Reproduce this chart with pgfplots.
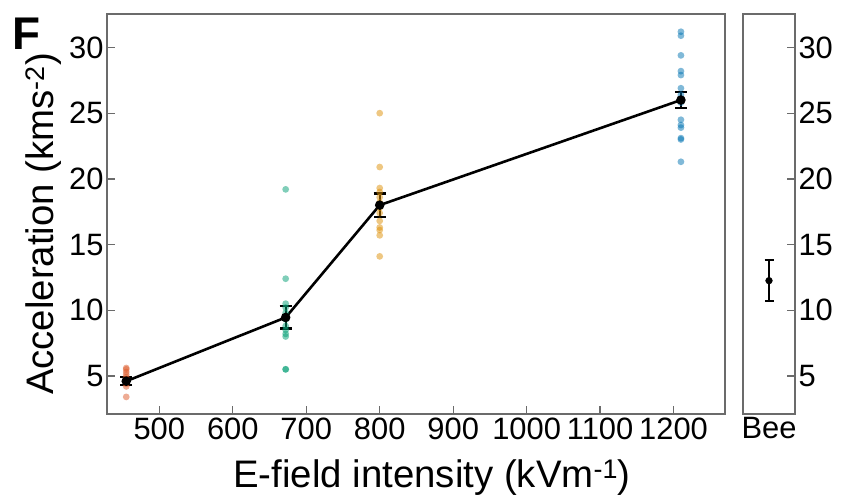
\documentclass[border=0pt]{standalone}
\usepackage{fontspec}
\setmainfont{Liberation Sans}
\usepackage{pgfplots}
\pgfplotsset{compat=1.18}

\definecolor{cred}{HTML}{DD5A2A}
\definecolor{cgreen}{HTML}{029E73}
\definecolor{cgold}{HTML}{DE8F05}
\definecolor{cblue}{HTML}{0173B2}
\definecolor{frame}{gray}{0.42}

\newcommand{\tickfont}{\fontsize{31}{31}\selectfont}
\newcommand{\labfont}{\fontsize{38.5}{38.5}\selectfont}

\pgfplotsset{
  panel/.style={
    scale only axis, height=400bp,
    ymin=2.1, ymax=32.55,
    ytick={5,10,...,30},
    tick align=inside,
    major tick length=8bp,
    axis line style={frame, line width=1.3bp},
    every tick/.style={frame, line width=1.3bp},
    tick label style={font=\tickfont},
    /pgf/number format/assume math mode=true,
    /pgf/number format/1000 sep={},
  },
  dots/.style={only marks, mark=*, mark size=3.4bp,
    mark options={draw opacity=0, fill=#1, fill opacity=0.5}},
}

\begin{document}
\begin{tikzpicture}
\useasboundingbox (-107bp,-88bp) rectangle (738bp,414bp);

\begin{axis}[panel,
  at={(0,0)}, anchor=south west,
  width=618bp,
  xmin=428.8, xmax=1270,
  xtick={500,600,...,1200},
  xtick pos=bottom, ytick pos=left,
  xlabel={E-field intensity (kVm\textsuperscript{-1})},
  ylabel={Acceleration (kms\textsuperscript{-2})},
  xlabel style={font=\labfont, at={(axis description cs:0.526,-0.1825)}, anchor=base},
  ylabel style={font=\labfont, at={(axis description cs:-0.0860,0.475)}, anchor=base, rotate=0},
  clip=false,
]
% individual trials
\addplot[dots=cred] coordinates {
  (455,5.6) (455,5.5) (455,5.3) (455,5.1) (455,4.9) (455,4.7)
  (455,4.5) (455,4.4) (455,4.2) (455,3.4)
};
\addplot[dots=cgreen] coordinates {
  (672,19.2) (672,12.4) (672,10.5) (672,10.2) (672,9.8) (672,9.3)
  (672,8.8) (672,8.5) (672,8.2) (672,8.0) (672,5.5) (672,5.5)
};
\addplot[dots=cgold] coordinates {
  (800,25.0) (800,20.9) (800,19.3) (800,19.0) (800,18.6) (800,18.2)
  (800,17.8) (800,17.4) (800,16.8) (800,16.3) (800,16.1) (800,15.7) (800,14.1)
};
\addplot[dots=cblue] coordinates {
  (1210,31.2) (1210,30.9) (1210,29.4) (1210,28.2) (1210,27.9) (1210,26.9)
  (1210,26.4) (1210,25.8) (1210,24.5) (1210,24.1) (1210,23.9) (1210,23.1)
  (1210,23.0) (1210,21.3)
};
% means +- error
\addplot[black, line width=2.6bp, mark=*, mark size=3.4bp,
  error bars/.cd, y dir=both, y explicit,
  error bar style={line width=2.3bp},
  error mark options={rotate=90, mark size=6bp, line width=2.3bp}]
  coordinates {
  (455,4.6) +- (0,0.3)
  (672,9.45) +- (0,0.85)
  (800,18.0) +- (0,0.88)
  (1210,26.0) +- (0,0.63)
};
\node[font=\fontsize{46}{46}\selectfont\bfseries, anchor=north west, inner sep=0pt]
  at (rel axis cs:-0.154,0.99) {F};
\end{axis}

\begin{axis}[panel,
  at={(636bp,0)}, anchor=south west,
  width=52bp,
  xmin=-1, xmax=1,
  xtick={0}, xticklabels={Bee},
  x tick style={draw=none},
  ytick pos=right, yticklabel pos=right,
]
\addplot[black, only marks, mark=*, mark size=3.4bp,
  error bars/.cd, y dir=both, y explicit,
  error bar style={line width=2bp},
  error mark options={rotate=90, mark size=4.5bp, line width=2bp}]
  coordinates {(0,12.25) +- (0,1.55)};
\end{axis}
\end{tikzpicture}
\end{document}
